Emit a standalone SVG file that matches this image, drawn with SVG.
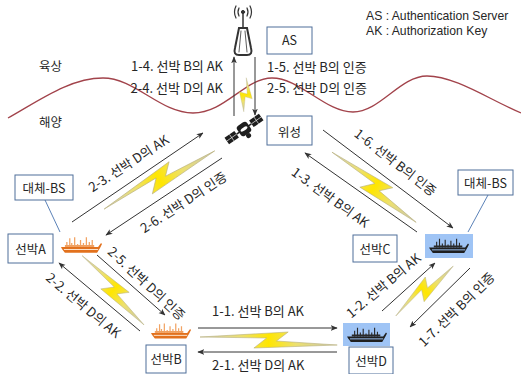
<svg xmlns="http://www.w3.org/2000/svg" width="521" height="374" viewBox="0 0 521 374">
  <style>
    text { font-family: "Noto Sans CJK KR", "Noto Sans", sans-serif; font-size: 13px; fill: #262626; }
    .legend { font-family: "Liberation Sans", Arial, sans-serif; font-size: 12.2px; }
    .name { font-size: 12.5px; }
    .box { fill: #ffffff; stroke: #4f6f9a; stroke-width: 1; }
    .mid { text-anchor: middle; }
    .end { text-anchor: end; }
    .arrow { stroke: #333333; stroke-width: 1; fill: none; marker-end: url(#ah); }
    .bslink { stroke: #5b82b8; stroke-width: 1; fill: none; }
    .bolt { fill: url(#boltGrad); stroke: #b8b07c; stroke-width: 0.6; }
    .coast { fill: none; stroke: #a2434b; stroke-width: 1.3; }
    .shipbg { fill: #9fc4f5; }
  </style>
  <defs>
    <marker id="ah" viewBox="0 0 10 10" refX="9" refY="5" markerWidth="7" markerHeight="7" orient="auto" markerUnits="userSpaceOnUse">
      <path d="M0,1 L10,5 L0,9 L2.5,5 Z" fill="#333333"/>
    </marker>
    <linearGradient id="boltGrad" x1="0" y1="0" x2="1" y2="0">
      <stop offset="0" stop-color="#d2d0c0"/>
      <stop offset="0.3" stop-color="#ece070"/>
      <stop offset="0.5" stop-color="#ffe600"/>
      <stop offset="0.7" stop-color="#ece070"/>
      <stop offset="1" stop-color="#c8c6b2"/>
    </linearGradient>
    <!-- Z-shaped lightning bolt, 140 long, centred on y=0 -->
    <polygon id="bolt" points="0,-3 90,-8 78,1 140,5 55,8 68,-2"/>
    <!-- ship silhouette, 42 x 20 -->
    <symbol id="ship-orange" viewBox="0 0 42 20">
      <path d="M6,12V7M9,12V3M11,12V8M14,12V2M17,12V9M20,12V5M23,12V8M26,12V2M29,12V7M32,12V5" stroke="#f2a363" stroke-width="1.3"/>
      <path d="M4,10H34V12H4Z" fill="#f0a060"/>
      <path d="M0,12H38L41,8L42,9L40,13L37,18H4L1,14Z" fill="#e2711d"/>
      <path d="M3,14.6H38" stroke="#fde6d2" stroke-width="1"/>
    </symbol>
    <symbol id="ship-dark" viewBox="0 0 42 20">
      <path d="M8,12V6M11,12V3M14,12V8M17,12V4M20,12V9M23,12V5M26,12V8M29,12V3M32,12V7" stroke="#2a2a2a" stroke-width="1.2"/>
      <path d="M5,10H35V12H5Z" fill="#2a2a2a"/>
      <path d="M0,12H38L41,8L42,9L40,13L37,18H4L1,14Z" fill="#1f1f1f"/>
      <path d="M3,14.6H38" stroke="#9fc4f5" stroke-width="1"/>
    </symbol>
  </defs>

  <!-- coastline between land and sea -->
  <path class="coast" d="M8,118 C40,100 70,78 103,78 C135,78 160,113 193,113 C225,113 245,78 272,78 C300,78 325,112 353,112 C380,112 400,76 427,76 C455,76 490,100 521,113"/>
  <text class="name" x="39" y="71">육상</text>
  <text class="name" x="39" y="127">해양</text>

  <!-- legend -->
  <g id="legend">
    <text class="legend" x="366" y="20">AS : Authentication Server</text>
    <text class="legend" x="366" y="35">AK : Authorization Key</text>
  </g>

  <!-- radio links -->
  <g id="radio-links">
    <use href="#bolt" class="bolt" transform="translate(244,78) rotate(84) scale(0.24,0.75)"/>
    <use href="#bolt" class="bolt" transform="translate(106,212) rotate(-32) scale(0.89,1.15)"/>
    <use href="#bolt" class="bolt" transform="translate(330,155) rotate(35) scale(0.78,1.15)"/>
    <use href="#bolt" class="bolt" transform="translate(80,258) rotate(43) scale(0.66,1.05)"/>
    <use href="#bolt" class="bolt" transform="translate(200,340) scale(0.98,1)"/>
    <use href="#bolt" class="bolt" transform="translate(398,318) rotate(-47) scale(0.54,1)"/>
  </g>

  <!-- connectors -->
  <g id="connectors">
    <path class="arrow" d="M234,116V57"/>
    <path class="arrow" d="M255,57V115"/>
    <path class="arrow" d="M72,222L203,133"/>
    <path class="arrow" d="M222,158L106,235"/>
    <path class="arrow" d="M323,130L453,228"/>
    <path class="arrow" d="M417,232L305,153"/>
    <path class="arrow" d="M97,255L165,315"/>
    <path class="arrow" d="M140,331L59,263"/>
    <path class="arrow" d="M198,328H337"/>
    <path class="arrow" d="M337,352H198"/>
    <path class="arrow" d="M382,311L435,263"/>
    <path class="arrow" d="M470,268L410,327"/>
    <path class="bslink" d="M45,200L60,232"/>
    <path class="bslink" d="M488,195L468,232"/>
  </g>

  <!-- message labels -->
  <g id="labels">
    <text class="end" x="223" y="71">1-4. 선박 B의 AK</text>
    <text class="end" x="223" y="93">2-4. 선박 D의 AK</text>
    <text x="267" y="72">1-5. 선박 B의 인증</text>
    <text x="267" y="93">2-5. 선박 D의 인증</text>
    <text class="mid" transform="translate(129,164) rotate(-33)" y="4">2-3. 선박 D의 AK</text>
    <text class="mid" transform="translate(184,203) rotate(-33)" y="4">2-6. 선박 D의 인증</text>
    <text class="mid" transform="translate(395,163) rotate(38)" y="4">1-6. 선박 B의 인증</text>
    <text class="mid" transform="translate(330,198) rotate(36)" y="4">1-3. 선박 B의 AK</text>
    <text class="mid" transform="translate(146,284) rotate(43)" y="4">2-5. 선박 D의 인증</text>
    <text class="mid" transform="translate(83,306) rotate(40)" y="4">2-2. 선박 D의 AK</text>
    <text class="mid" transform="translate(384,286) rotate(-40)" y="4">1-2. 선박 B의 AK</text>
    <text class="mid" transform="translate(457,310) rotate(-44)" y="4">1-7. 선박 B의 인증</text>
    <text x="212" y="316">1-1. 선박 B의 AK</text>
    <text x="212" y="370">2-1. 선박 D의 AK</text>
  </g>

  <!-- shore station tower -->
  <g id="tower" fill="none" stroke="#333333" stroke-linecap="round">
    <circle cx="243" cy="12" r="1.6" fill="#333333"/>
    <path d="M239,8Q237,12 239,16M236,6Q233,12 236,18M247,8Q249,12 247,16M250,6Q253,12 250,18" stroke-width="1.2"/>
    <path d="M243,13V28" stroke-width="1.5"/>
    <path d="M239,28H247L251,48Q253,55 247,55H239Q233,55 235,48Z" stroke-width="2" fill="#ffffff"/>
    <path d="M241,31L239,52M245,31L247,52" stroke-width="0.8"/>
  </g>

  <g id="as">
    <rect class="box" x="267" y="27" width="45" height="27"/>
    <text class="mid name" x="289.5" y="45">AS</text>
  </g>

  <!-- satellite -->
  <g id="satellite" transform="translate(244,129) rotate(-35)">
    <rect x="-21" y="-4" width="12" height="8" fill="#1e1e1e"/>
    <path d="M-15,-4V4M-21,0H-9" stroke="#ffffff" stroke-width="0.6"/>
    <rect x="9" y="-4" width="12" height="8" fill="#1e1e1e"/>
    <path d="M15,-4V4M9,0H21" stroke="#ffffff" stroke-width="0.6"/>
    <path d="M-9,0H9" stroke="#1e1e1e" stroke-width="1.5"/>
    <rect x="-6" y="-6" width="12" height="12" rx="3" fill="#1e1e1e"/>
    <ellipse cx="0" cy="0" rx="4" ry="1.6" fill="#ffffff"/>
    <circle cx="0" cy="8" r="2.5" fill="#1e1e1e"/>
  </g>

  <g id="wiseong">
    <rect class="box" x="267" y="116" width="45" height="29"/>
    <text class="mid name" x="289.5" y="137">위성</text>
  </g>

  <g id="bs-left">
    <rect class="box" x="15" y="175" width="58" height="25"/>
    <text class="mid name" x="44" y="193">대체-BS</text>
  </g>

  <g id="bs-right">
    <rect class="box" x="458" y="170" width="55" height="25"/>
    <text class="mid name" x="485.5" y="188">대체-BS</text>
  </g>

  <g id="ship-a">
    <use href="#ship-orange" x="61" y="235" width="41" height="20"/>
    <rect class="box" x="8" y="234" width="45" height="29"/>
    <text class="mid name" x="30.5" y="254">선박A</text>
  </g>

  <g id="ship-b">
    <use href="#ship-orange" x="151" y="321" width="40" height="20"/>
    <rect class="box" x="146" y="345" width="40" height="28"/>
    <text class="mid name" x="166" y="364">선박B</text>
  </g>

  <g id="ship-c">
    <rect class="shipbg" x="425" y="234" width="48" height="24"/>
    <use href="#ship-dark" x="429" y="236" width="40" height="19"/>
    <rect class="box" x="353" y="235" width="44" height="27"/>
    <text class="mid name" x="375" y="254">선박C</text>
  </g>

  <g id="ship-d">
    <rect class="shipbg" x="343" y="323" width="47" height="23"/>
    <use href="#ship-dark" x="347" y="325" width="40" height="19"/>
    <rect class="box" x="349" y="347" width="44" height="27"/>
    <text class="mid name" x="371" y="366">선박D</text>
  </g>
</svg>
